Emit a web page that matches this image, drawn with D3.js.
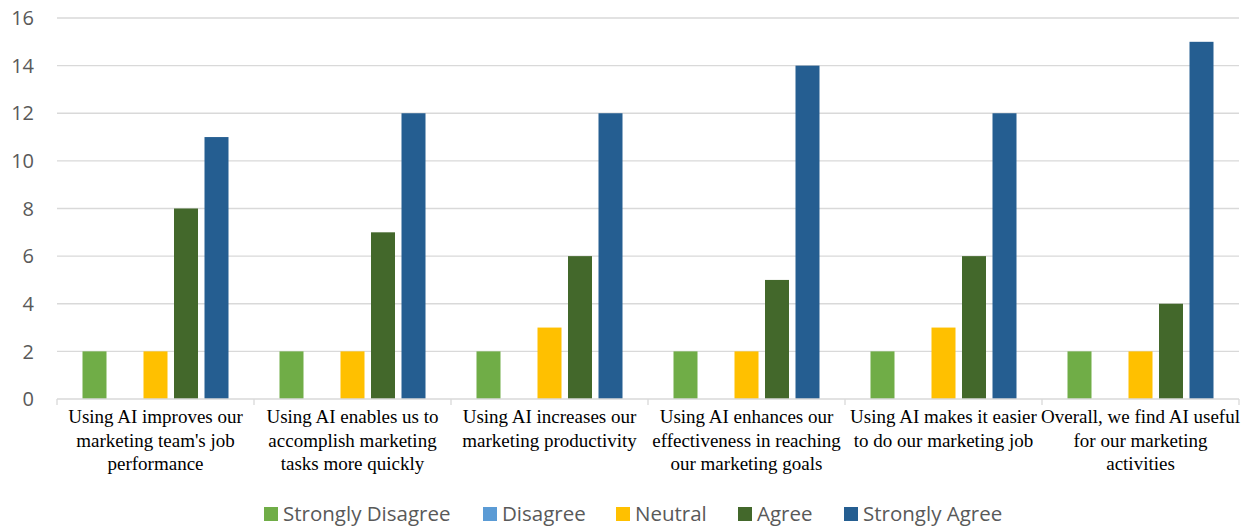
<!DOCTYPE html>
<html>
<head>
<meta charset="utf-8">
<script src="https://cdn.jsdelivr.net/npm/d3@7"></script>
<style>
  html, body { margin: 0; padding: 0; background: #fff; }
  svg { display: block; }
</style>
</head>
<body>
<svg id="chart" width="1252" height="526"></svg>
<script>
// Survey statements (one group per statement)
const categories = [
  ["Using AI improves our", "marketing team's job", "performance"],
  ["Using AI enables us to", "accomplish marketing", "tasks more quickly"],
  ["Using AI increases our", "marketing productivity"],
  ["Using AI enhances our", "effectiveness in reaching", "our marketing goals"],
  ["Using AI makes it easier", "to do our marketing job"],
  ["Overall, we find AI useful", "for our marketing", "activities"]
];
const seriesNames = ["Strongly Disagree", "Disagree", "Neutral", "Agree", "Strongly Agree"];
const stronglyDisagree = [2, 2, 2, 2, 2, 2];
const disagree = [0, 0, 0, 0, 0, 0];
const neutral = [2, 2, 3, 2, 3, 2];
const agree = [8, 7, 6, 5, 6, 4];
const stronglyAgree = [11, 12, 12, 14, 12, 15];
const yTicks = [0, 2, 4, 6, 8, 10, 12, 14, 16];
const colors = ["#70AD47", "#5B9BD5", "#FFC000", "#43682B", "#255E91"];

const seriesValues = [stronglyDisagree, disagree, neutral, agree, stronglyAgree];

const svg = d3.select("#chart");
const margin = { left: 57, right: 13, top: 18, bottom: 127 };
const W = 1252, H = 526;
const plotW = W - margin.left - margin.right;
const plotH = H - margin.top - margin.bottom;

const g = svg.append("g").attr("transform", `translate(${margin.left},${margin.top})`);

const x0 = d3.scaleBand().domain(d3.range(categories.length)).range([0, plotW]).padding(0);
const x1 = d3.scaleBand().domain(d3.range(seriesNames.length))
  .range([0, x0.bandwidth()]).paddingInner(0.213).paddingOuter(0.836);
const y = d3.scaleLinear().domain([0, 16]).range([plotH, 0]);

// Horizontal gridlines
g.append("g").selectAll("line").data(yTicks.filter(t => t > 0)).join("line")
  .attr("x1", 0).attr("x2", plotW)
  .attr("y1", d => y(d)).attr("y2", d => y(d))
  .attr("stroke", "#D9D9D9").attr("stroke-width", 1.3);

// Y axis labels
g.append("g").selectAll("text").data(yTicks).join("text")
  .attr("x", -23).attr("y", d => y(d)).attr("dy", "0.36em")
  .attr("text-anchor", "end")
  .attr("font-family", "'Open Sans', 'Noto Sans', sans-serif")
  .attr("font-size", 20).attr("fill", "#595959")
  .text(d => d);

// Bars
const groups = g.append("g").selectAll("g").data(categories.map((c, i) => i)).join("g")
  .attr("transform", i => `translate(${x0(i)},0)`);
groups.selectAll("rect")
  .data(i => seriesValues.map((vals, s) => ({ s, v: vals[i] })))
  .join("rect")
  .attr("x", d => x1(d.s))
  .attr("width", x1.bandwidth())
  .attr("y", d => y(d.v))
  .attr("height", d => y(0) - y(d.v))
  .attr("fill", d => colors[d.s]);

// Category axis
const xAxis = g.append("g").attr("transform", `translate(0,${plotH})`);
xAxis.append("line").attr("x1", 0).attr("x2", plotW).attr("y1", 0).attr("y2", 0)
  .attr("stroke", "#D9D9D9").attr("stroke-width", 1.3);
xAxis.selectAll("line.tick").data(d3.range(categories.length + 1)).join("line")
  .attr("class", "tick")
  .attr("x1", i => i * x0.step()).attr("x2", i => i * x0.step())
  .attr("y1", 0).attr("y2", 6)
  .attr("stroke", "#D9D9D9").attr("stroke-width", 1.3);

const labels = xAxis.selectAll("text").data(categories).join("text")
  .attr("x", (d, i) => x0(i) + x0.bandwidth() / 2)
  .attr("y", 24)
  .attr("text-anchor", "middle")
  .attr("font-family", "'Liberation Serif', 'Times New Roman', serif")
  .attr("font-size", 19).attr("fill", "#000");
labels.selectAll("tspan").data(d => d).join("tspan")
  .attr("x", function () { return d3.select(this.parentNode).attr("x"); })
  .attr("dy", (d, j) => j === 0 ? 0 : 23.5)
  .text(d => d);

// Legend
const legendX = [264, 483, 616, 738, 844];
const legend = svg.append("g").selectAll("g").data(seriesNames).join("g")
  .attr("transform", (d, i) => `translate(${legendX[i]},507)`);
legend.append("rect").attr("width", 14).attr("height", 14).attr("fill", (d, i) => colors[i]);
legend.append("text").attr("x", 19).attr("y", 7).attr("dy", "0.36em")
  .attr("font-family", "'Open Sans', 'Noto Sans', sans-serif")
  .attr("font-size", 20.5).attr("fill", "#595959")
  .text(d => d);
</script>
</body>
</html>
